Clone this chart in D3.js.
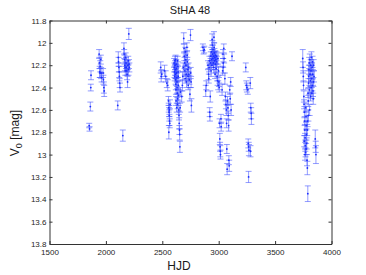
<!DOCTYPE html>
<html lang="en">
<head>
  <meta charset="UTF-8">
  <title>StHA 48</title>
  <style>
    body { margin: 0; background: #fff; }
    svg { display: block; font-family: "Liberation Sans", Arial, sans-serif; }
    .axis text { font-size: 8px; fill: #262626; }
    .axis path, .axis line { stroke: #333; }
  </style>
</head>
<body>
  <svg id="chart" width="366" height="275"></svg>
  <script src="https://cdn.jsdelivr.net/npm/d3@7"></script>
  <script>
    // observations per season: [HJD, V0 mag, error]
    const season1 = [
      [1852, 12.74, 0.02], [1855, 12.77, 0.02], [1862, 12.57, 0.04], [1866, 12.40, 0.03], [1868, 12.29, 0.04],
      [1940, 12.10, 0.04], [1942, 12.18, 0.05], [1945, 12.26, 0.05], [1948, 12.27, 0.04], [1950, 12.21, 0.05],
      [1955, 12.15, 0.04], [1958, 12.27, 0.05], [1962, 12.31, 0.04], [1975, 12.27, 0.04], [1978, 12.33, 0.04],
      [1982, 12.40, 0.05], [1985, 12.43, 0.05]
    ];
    const season2 = [
      [2105, 12.56, 0.04], [2110, 12.13, 0.05], [2112, 12.17, 0.04], [2115, 12.22, 0.04], [2118, 12.26, 0.05],
      [2120, 12.30, 0.04], [2122, 12.36, 0.04], [2125, 12.40, 0.04], [2150, 12.83, 0.05], [2160, 12.05, 0.05],
      [2162, 12.10, 0.04], [2165, 12.15, 0.04], [2168, 12.20, 0.05], [2170, 12.22, 0.04], [2172, 12.25, 0.04],
      [2175, 12.13, 0.04], [2178, 12.18, 0.05], [2182, 12.22, 0.04], [2185, 12.25, 0.04], [2188, 12.28, 0.05],
      [2192, 12.35, 0.05], [2195, 12.20, 0.04], [2198, 12.16, 0.04], [2200, 12.24, 0.05], [2203, 11.92, 0.05],
      [2205, 12.19, 0.04], [2208, 12.22, 0.04]
    ];
    const season3 = [
      [2486, 12.22, 0.05], [2490, 12.30, 0.05], [2495, 12.28, 0.04], [2520, 12.25, 0.05], [2530, 12.30, 0.05],
      [2540, 12.36, 0.04], [2548, 12.38, 0.05], [2555, 12.52, 0.04], [2557, 12.58, 0.04], [2560, 12.62, 0.04],
      [2562, 12.65, 0.05], [2564, 12.70, 0.04], [2566, 12.72, 0.04], [2558, 12.80, 0.06], [2563, 12.60, 0.04],
      [2568, 12.55, 0.04],
      [2605, 12.18, 0.04], [2607, 12.22, 0.04], [2608, 12.26, 0.05], [2610, 12.30, 0.04], [2612, 12.16, 0.04],
      [2613, 12.20, 0.04], [2615, 12.24, 0.05], [2616, 12.28, 0.04], [2618, 12.33, 0.04], [2620, 12.37, 0.05],
      [2621, 12.42, 0.04], [2623, 12.19, 0.04], [2625, 12.23, 0.04], [2626, 12.27, 0.05], [2628, 12.31, 0.04],
      [2630, 12.35, 0.04], [2631, 12.40, 0.05], [2633, 12.45, 0.04], [2635, 12.50, 0.04], [2636, 12.55, 0.04],
      [2638, 12.21, 0.04], [2640, 12.26, 0.05], [2641, 12.30, 0.04], [2643, 12.38, 0.04], [2645, 12.47, 0.05],
      [2646, 12.60, 0.04], [2648, 12.65, 0.04], [2650, 12.72, 0.05], [2652, 12.78, 0.04], [2654, 12.82, 0.05],
      [2656, 12.93, 0.05], [2658, 12.58, 0.04], [2660, 12.44, 0.04], [2636, 12.16, 0.04], [2628, 12.58, 0.04],
      [2622, 12.52, 0.04], [2618, 12.15, 0.04],
      [2672, 12.48, 0.05], [2678, 12.38, 0.05], [2682, 12.30, 0.04], [2686, 12.22, 0.04], [2690, 11.96, 0.05],
      [2693, 12.05, 0.04], [2695, 12.12, 0.04], [2698, 12.18, 0.05], [2700, 12.25, 0.04], [2703, 12.32, 0.04],
      [2705, 12.08, 0.04], [2708, 12.15, 0.05], [2710, 12.20, 0.04], [2712, 12.28, 0.04], [2715, 12.35, 0.05],
      [2718, 12.04, 0.04], [2720, 12.11, 0.04], [2722, 12.17, 0.04], [2725, 12.24, 0.05], [2728, 12.30, 0.04],
      [2730, 12.38, 0.04], [2733, 12.22, 0.04], [2736, 12.28, 0.05], [2740, 12.33, 0.04], [2745, 12.46, 0.06],
      [2750, 11.93, 0.05], [2752, 12.27, 0.05], [2755, 12.35, 0.05], [2758, 12.56, 0.06]
    ];
    const season4 = [
      [2860, 12.04, 0.03], [2866, 12.07, 0.03], [2872, 12.06, 0.03], [2885, 12.43, 0.05], [2890, 12.38, 0.04],
      [2905, 12.20, 0.04], [2910, 12.28, 0.05], [2912, 12.32, 0.04], [2915, 12.22, 0.04], [2918, 12.16, 0.04],
      [2920, 12.62, 0.04], [2922, 12.66, 0.04], [2925, 12.48, 0.05], [2928, 12.18, 0.04], [2930, 12.12, 0.04],
      [2932, 12.25, 0.05], [2935, 12.08, 0.04], [2938, 12.15, 0.04], [2940, 12.20, 0.04], [2942, 11.97, 0.05],
      [2944, 12.02, 0.04], [2946, 12.10, 0.04], [2948, 12.14, 0.05], [2950, 12.06, 0.04], [2952, 12.18, 0.04],
      [2954, 12.12, 0.04], [2956, 12.22, 0.05], [2958, 11.95, 0.05], [2960, 12.04, 0.04], [2962, 12.09, 0.04],
      [2964, 12.16, 0.04], [2966, 12.13, 0.05], [2968, 12.28, 0.04], [2970, 12.11, 0.04], [2972, 12.19, 0.05],
      [2975, 12.15, 0.04], [2978, 12.23, 0.04], [2980, 12.12, 0.04], [2983, 12.17, 0.05], [2986, 12.30, 0.04],
      [2990, 12.34, 0.04], [2993, 12.14, 0.05], [2996, 12.38, 0.04], [2998, 12.25, 0.04],
      [3002, 12.35, 0.04], [3005, 12.40, 0.04], [3008, 12.72, 0.04], [3010, 12.86, 0.05], [3012, 12.93, 0.04],
      [3014, 12.97, 0.05], [3016, 13.00, 0.04], [3020, 12.68, 0.04], [3022, 12.75, 0.04], [3030, 12.42, 0.05],
      [3035, 12.25, 0.04], [3038, 12.10, 0.04], [3040, 12.18, 0.04], [3042, 12.22, 0.05], [3045, 12.05, 0.04],
      [3048, 12.14, 0.04], [3055, 12.32, 0.05], [3060, 12.48, 0.04], [3064, 12.55, 0.04], [3068, 12.60, 0.05],
      [3070, 12.72, 0.04], [3072, 12.95, 0.04], [3075, 13.13, 0.05], [3078, 12.52, 0.04], [3082, 12.58, 0.05],
      [3085, 12.65, 0.04], [3088, 12.74, 0.05], [3090, 13.05, 0.04], [3093, 13.10, 0.05], [3098, 12.42, 0.04],
      [3102, 12.50, 0.05], [3106, 12.35, 0.04], [3110, 12.60, 0.05], [3118, 12.12, 0.04]
    ];
    const season5 = [
      [3240, 12.22, 0.04], [3245, 12.38, 0.04], [3250, 12.40, 0.04], [3258, 12.42, 0.04], [3262, 12.90, 0.04],
      [3266, 12.93, 0.04], [3268, 12.96, 0.05], [3265, 13.20, 0.05], [3280, 12.36, 0.05], [3284, 12.58, 0.04],
      [3288, 12.63, 0.05], [3290, 12.68, 0.05], [3282, 12.97, 0.05]
    ];
    const season6 = [
      [3745, 12.14, 0.08], [3748, 12.22, 0.05], [3750, 12.30, 0.05], [3752, 12.38, 0.04], [3755, 12.48, 0.05],
      [3757, 12.55, 0.04], [3760, 12.62, 0.05], [3762, 12.70, 0.04], [3764, 12.78, 0.05], [3766, 12.85, 0.04],
      [3768, 12.92, 0.05], [3770, 12.98, 0.04], [3758, 12.88, 0.05], [3772, 12.58, 0.04], [3774, 12.66, 0.05],
      [3776, 12.74, 0.04], [3778, 12.82, 0.05], [3780, 12.90, 0.05], [3783, 13.05, 0.05], [3786, 13.12, 0.06],
      [3788, 12.70, 0.05], [3790, 13.35, 0.07], [3792, 12.45, 0.04], [3794, 12.52, 0.05], [3796, 12.36, 0.04],
      [3798, 12.30, 0.05], [3800, 12.24, 0.04], [3802, 12.18, 0.05], [3804, 12.42, 0.04], [3806, 12.60, 0.05],
      [3808, 12.15, 0.05], [3810, 12.28, 0.04], [3812, 12.34, 0.05], [3814, 12.48, 0.04], [3816, 12.20, 0.05],
      [3818, 12.25, 0.04], [3820, 12.40, 0.05], [3822, 12.13, 0.05], [3824, 12.32, 0.04], [3826, 12.45, 0.05],
      [3828, 12.22, 0.04], [3830, 12.38, 0.05], [3832, 12.17, 0.05], [3834, 12.28, 0.04], [3836, 12.43, 0.05],
      [3838, 12.50, 0.05], [3840, 12.35, 0.04], [3842, 12.20, 0.05], [3845, 12.30, 0.05], [3856, 12.86, 0.08],
      [3860, 12.93, 0.05], [3862, 13.00, 0.08], [3765, 13.00, 0.05], [3775, 12.95, 0.05], [3785, 12.78, 0.05],
      [3795, 12.65, 0.05]
    ];

    const xTicks = [1500, 2000, 2500, 3000, 3500, 4000];
    const yTicks = [11.8, 12, 12.2, 12.4, 12.6, 12.8, 13, 13.2, 13.4, 13.6, 13.8];

    const points = [].concat(season1, season2, season3, season4, season5, season6);

    const svg = d3.select("#chart");
    const plotLeft = 49.5, plotRight = 331.5, plotTop = 20.5, plotBottom = 244;

    const x = d3.scaleLinear().domain([1500, 4000]).range([plotLeft, plotRight]);
    const y = d3.scaleLinear().domain([11.8, 13.8]).range([plotTop, plotBottom]);

    // error bars
    const bars = svg.append("g").attr("stroke", "#3a4dff").attr("stroke-opacity", 0.55).attr("stroke-width", 1);
    points.forEach(p => {
      const px = x(p[0]), y1 = y(p[1] - p[2]), y2 = y(p[1] + p[2]);
      bars.append("line").attr("x1", px).attr("x2", px).attr("y1", y1).attr("y2", y2);
      bars.append("line").attr("x1", px - 3).attr("x2", px + 3).attr("y1", y1).attr("y2", y1);
      bars.append("line").attr("x1", px - 3).attr("x2", px + 3).attr("y1", y2).attr("y2", y2);
    });

    svg.append("g").selectAll("circle")
      .data(points)
      .join("circle")
      .attr("cx", d => x(d[0]))
      .attr("cy", d => y(d[1]))
      .attr("r", 0.9)
      .attr("fill", "#1a2cff");

    const fmt = d => String(+d.toFixed(1));

    svg.append("g").attr("class", "axis")
      .attr("transform", `translate(0,${plotBottom})`)
      .call(d3.axisBottom(x).tickValues(xTicks).tickSizeInner(-3).tickSizeOuter(0).tickPadding(5).tickFormat(d3.format("d")));
    svg.append("g").attr("class", "axis")
      .attr("transform", `translate(0,${plotTop})`)
      .call(d3.axisTop(x).tickValues(xTicks).tickSizeInner(-3).tickSizeOuter(0).tickFormat(""));
    svg.append("g").attr("class", "axis")
      .attr("transform", `translate(${plotLeft},0)`)
      .call(d3.axisLeft(y).tickValues(yTicks).tickSizeInner(-3).tickSizeOuter(0).tickPadding(3).tickFormat(fmt));
    svg.append("g").attr("class", "axis")
      .attr("transform", `translate(${plotRight},0)`)
      .call(d3.axisRight(y).tickValues(yTicks).tickSizeInner(-3).tickSizeOuter(0).tickFormat(""));

    svg.append("text")
      .attr("x", 190).attr("y", 14)
      .attr("text-anchor", "middle")
      .attr("font-size", 11).attr("fill", "#1a1a1a")
      .text("StHA 48");

    svg.append("text")
      .attr("x", 179).attr("y", 270)
      .attr("text-anchor", "middle")
      .attr("font-size", 12).attr("fill", "#1a1a1a")
      .text("HJD");

    const yl = svg.append("text")
      .attr("transform", "translate(19,133) rotate(-90)")
      .attr("text-anchor", "middle")
      .attr("font-size", 12).attr("fill", "#1a1a1a");
    yl.append("tspan").text("V");
    yl.append("tspan").attr("font-size", 9).attr("dy", 3).text("0");
    yl.append("tspan").attr("dy", -3).text(" [mag]");
  </script>
</body>
</html>
